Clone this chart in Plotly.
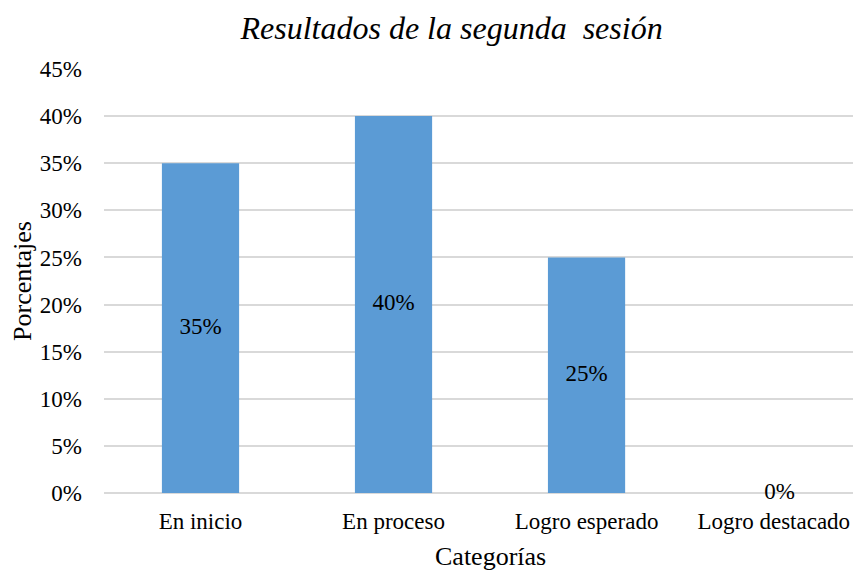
import plotly.graph_objects as go

categorias = ["En inicio", "En proceso", "Logro esperado", "Logro destacado"]
porcentajes = [0.35, 0.40, 0.25, 0.0]
etiquetas = [f"{v:.0%}" for v in porcentajes]

serif = "Liberation Serif, Times New Roman, serif"

fig = go.Figure()
fig.add_trace(go.Bar(
    x=categorias,
    y=porcentajes,
    marker=dict(color="#5B9BD5", line=dict(width=0)),
    hoverinfo="skip",
))
# etiquetas centradas en cada barra
fig.add_trace(go.Scatter(
    x=categorias,
    y=[v / 2 for v in porcentajes],
    text=etiquetas,
    mode="text",
    textposition="middle center",
    textfont=dict(family=serif, size=23, color="#000000"),
    cliponaxis=False,
    hoverinfo="skip",
))

# la última etiqueta del eje se corre un poco a la izquierda (como en Excel) para que quepa
textos_eje = categorias[:-1] + [categorias[-1] + "\u00a0\u00a0"]

# la página tiene 8px de margen en body, por eso 853x563
# el área del gráfico original continúa más allá del borde derecho (imagen recortada)
fig.update_layout(
    width=853, height=563,
    margin=dict(l=96, r=0, t=61, b=78),
    paper_bgcolor="white",
    plot_bgcolor="white",
    showlegend=False,
    bargap=0.6,
    title=dict(
        text="<i>Resultados de la segunda  sesión</i>",
        x=0.52, xanchor="center", y=0.964, yanchor="middle",
        font=dict(family=serif, size=32, color="#000000"),
    ),
    font=dict(family=serif, size=23, color="#000000"),
    annotations=[dict(
        text="Categorías", xref="paper", yref="paper",
        x=0.51, y=0, xanchor="center", yanchor="middle", yshift=-63,
        showarrow=False, font=dict(family=serif, size=26, color="#000000"),
    )],
)
fig.update_xaxes(
    range=[-0.5, 3.422],
    tickmode="array", tickvals=categorias, ticktext=textos_eje,
    tickfont=dict(family=serif, size=23),
    ticklabelstandoff=12,
    showgrid=False, showline=False, ticks="",
)
fig.update_yaxes(
    title=dict(text="Porcentajes", font=dict(family=serif, size=26), standoff=7),
    range=[0, 0.45],
    dtick=0.05,
    tickformat=".0%",
    tickfont=dict(family=serif, size=23),
    ticklabelstandoff=21,
    showgrid=True, gridcolor="#d9d9d9", gridwidth=1.5,
    zeroline=True, zerolinecolor="#d9d9d9", zerolinewidth=1.5,
    showline=False, ticks="",
)

fig.write_html("out.html")
